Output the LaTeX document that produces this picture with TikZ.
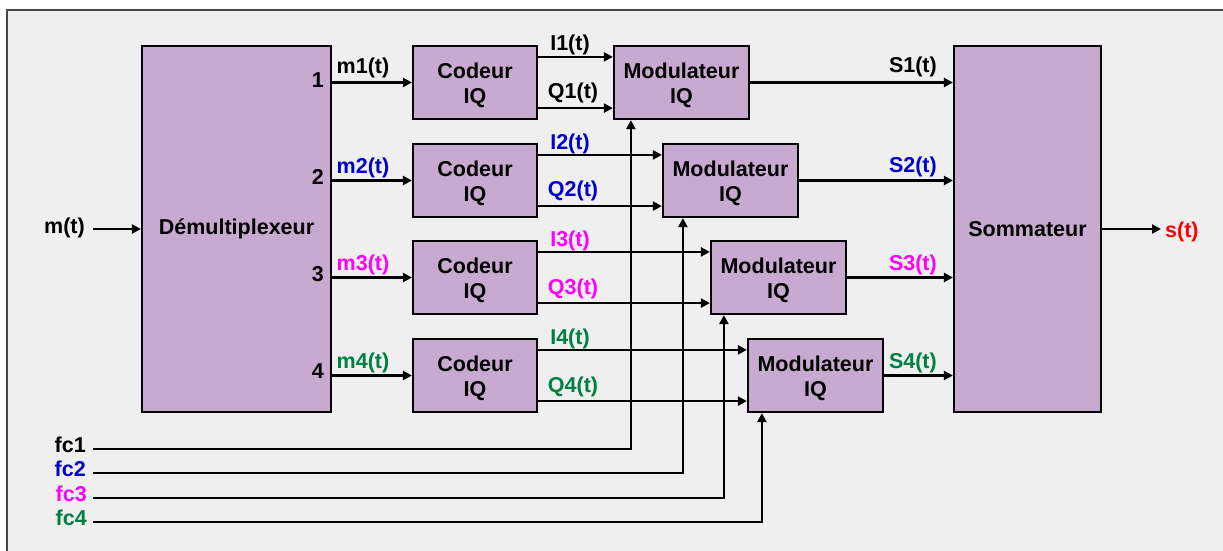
\documentclass[tikz,border=0pt]{standalone}
\usepackage{fontspec}
\setmainfont{Liberation Sans}
\usetikzlibrary{arrows.meta,calc}
\definecolor{boxfill}{RGB}{200,169,208}
\definecolor{panel}{RGB}{239,239,239}
\definecolor{framegray}{RGB}{70,70,70}
\definecolor{cblue}{RGB}{0,0,200}
\definecolor{cmag}{RGB}{255,0,255}
\definecolor{cgreen}{RGB}{0,128,64}
\definecolor{cred}{RGB}{255,0,0}
% lower a line of block text slightly, keeping its box size
\newcommand{\dn}[1]{\raisebox{-3pt}[\height][\depth]{#1}}
\tikzset{
  txt/.style={font=\fontsize{21.5}{24.5}\selectfont\bfseries, inner sep=0pt},
  block/.style={txt, draw=black, line width=2.2pt, fill=boxfill, align=center},
  wire/.style={line width=2.6pt, -{Triangle[length=9pt,width=9pt]}},
  lbl/.style={txt, anchor=base},
}
\begin{document}
\begin{tikzpicture}[x=1pt,y=-1pt]
  % page and panel
  \fill[white] (0,0) rectangle (1223,551);
  \useasboundingbox (0,0) rectangle (1223,551);
  \clip (0,0) rectangle (1223,551);
  \draw[framegray, line width=1.6pt, fill=panel] (7,10) rectangle (1240,570);

  % blocks
  \node[block, minimum width=189pt, minimum height=366pt] (demux) at (236.5,229) {Démultiplexeur};
  \node[block, minimum width=147pt, minimum height=366pt] (somm) at (1027.5,229) {Sommateur};

  \node[block, minimum width=124pt, minimum height=73pt] (cod1) at (475,82.5) {\dn{Codeur}\\\dn{IQ}};
  \node[block, minimum width=124pt, minimum height=73pt] (cod2) at (475,180.5) {\dn{Codeur}\\\dn{IQ}};
  \node[block, minimum width=124pt, minimum height=73pt] (cod3) at (475,277.5) {\dn{Codeur}\\\dn{IQ}};
  \node[block, minimum width=124pt, minimum height=73pt] (cod4) at (475,375.5) {\dn{Codeur}\\\dn{IQ}};

  \node[block, minimum width=135pt, minimum height=73pt] (mod1) at (681.5,82.5) {\dn{Modulateur}\\\dn{IQ}};
  \node[block, minimum width=135pt, minimum height=73pt] (mod2) at (730.5,180.5) {\dn{Modulateur}\\\dn{IQ}};
  \node[block, minimum width=135pt, minimum height=73pt] (mod3) at (778.5,277.5) {\dn{Modulateur}\\\dn{IQ}};
  \node[block, minimum width=135pt, minimum height=73pt] (mod4) at (815.5,375.5) {\dn{Modulateur}\\\dn{IQ}};

  % free ends
  \coordinate (min) at (93,229);
  \coordinate (sout) at (1161,229);
  \coordinate (fc1) at (93,449);
  \coordinate (fc2) at (93,473);
  \coordinate (fc3) at (93,498);
  \coordinate (fc4) at (93,522);

  % input and output
  \draw[wire] (min) -- (demux.west |- min);
  \draw[wire] (somm.east |- sout) -- (sout);
  \node[txt, anchor=base east] (lmin) at (85,233) {m(t)};
  \node[txt, anchor=base west, text=cred] (lsout) at (1165,237) {s(t)};

  % demultiplexer outputs, I/Q pairs and modulated signals
  \foreach \i in {1,...,4} {
    \draw[wire] (demux.east |- cod\i) -- (cod\i.west);
    \draw[wire] ([yshift=-12pt]cod\i.north east) -- ([yshift=-12pt]cod\i.north east -| mod\i.west);
    \draw[wire] ([yshift=12pt]cod\i.south east) -- ([yshift=12pt]cod\i.south east -| mod\i.west);
    \draw[wire] (mod\i.east) -- (mod\i.east -| somm.west);
  }

  % carrier inputs
  \draw[wire] (fc1) -| ([xshift=18pt]mod1.south west);
  \draw[wire] (fc2) -| ([xshift=21pt]mod2.south west);
  \draw[wire] (fc3) -| ([xshift=14pt]mod3.south west);
  \draw[wire] (fc4) -| ([xshift=15pt]mod4.south west);

  % port numbers
  \node[txt, anchor=base east] (p1) at (324,87) {1};
  \node[txt, anchor=base east] (p2) at (324,184) {2};
  \node[txt, anchor=base east] (p3) at (324,281) {3};
  \node[txt, anchor=base east] (p4) at (324,378) {4};

  % signal labels
  \node[lbl] (lm1) at (363,74) {m1(t)};
  \node[lbl, text=cblue] (lm2) at (363,173) {m2(t)};
  \node[lbl, text=cmag] (lm3) at (363,270) {m3(t)};
  \node[lbl, text=cgreen] (lm4) at (363,368) {m4(t)};

  \node[lbl] (li1) at (570,51) {I1(t)};
  \node[lbl, text=cblue] (li2) at (570,149) {I2(t)};
  \node[lbl, text=cmag] (li3) at (570,246) {I3(t)};
  \node[lbl, text=cgreen] (li4) at (570,344) {I4(t)};

  \node[lbl] (lq1) at (573,99) {Q1(t)};
  \node[lbl, text=cblue] (lq2) at (573,196) {Q2(t)};
  \node[lbl, text=cmag] (lq3) at (573,294) {Q3(t)};
  \node[lbl, text=cgreen] (lq4) at (573,392) {Q4(t)};

  \node[txt, anchor=base east] (ls1) at (937,73) {S1(t)};
  \node[txt, anchor=base east, text=cblue] (ls2) at (937,172) {S2(t)};
  \node[txt, anchor=base east, text=cmag] (ls3) at (937,270) {S3(t)};
  \node[txt, anchor=base east, text=cgreen] (ls4) at (937,368) {S4(t)};

  \node[txt, anchor=base east] (lfc1) at (86,452) {fc1};
  \node[txt, anchor=base east, text=cblue] (lfc2) at (86,476) {fc2};
  \node[txt, anchor=base east, text=cmag] (lfc3) at (87,501) {fc3};
  \node[txt, anchor=base east, text=cgreen] (lfc4) at (87,525) {fc4};
\end{tikzpicture}
\end{document}
